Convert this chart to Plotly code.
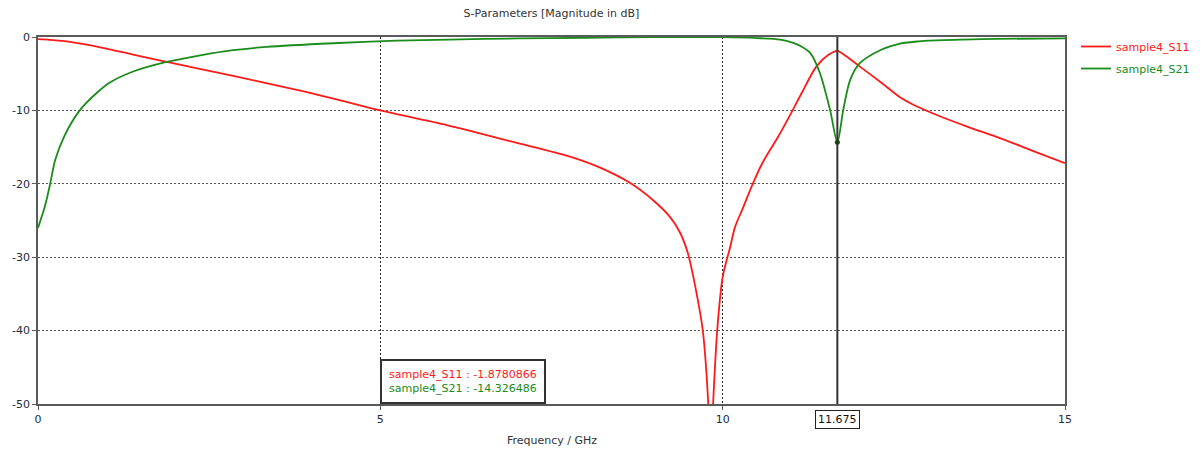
import plotly.graph_objects as go

# S11 magnitude (dB) vs frequency (GHz)
freq_s11 = [0.0, 0.42, 0.91, 1.39, 1.88, 2.85, 3.83, 4.4, 5.0, 5.97, 6.94, 7.77, 8.21,
            8.65, 8.98, 9.23, 9.38, 9.49, 9.60, 9.71, 9.79, 9.82, 9.86, 9.92, 10.0,
            10.11, 10.18, 10.30, 10.43, 10.59, 10.81, 11.01, 11.15, 11.37, 11.55, 11.675,
            11.8, 12.0, 12.3, 12.59, 12.8, 13.2, 13.6, 14.0, 14.5, 15.0]
s11_db = [-0.3, -0.6, -1.4, -2.4, -3.4, -5.3, -7.3, -8.6, -10.0, -12.0, -14.3, -16.3, -17.8,
          -19.9, -22.2, -24.5, -26.7, -29.4, -34.0, -40.0, -50.0, -58.0, -50.0, -40.0, -32.7,
          -28.6, -25.9, -23.2, -20.2, -17.0, -13.6, -10.2, -7.7, -4.0, -2.4, -1.8780866,
          -2.6, -4.0, -6.1, -8.2, -9.3, -10.9, -12.3, -13.6, -15.4, -17.2]

# S21 magnitude (dB) vs frequency (GHz)
freq_s21 = [0.0, 0.1, 0.18, 0.25, 0.39, 0.61, 0.86, 1.05, 1.39, 1.88, 2.37, 2.85,
            3.34, 4.31, 5.24, 6.0, 7.0, 8.0, 9.0, 10.0, 10.5, 10.84, 11.03, 11.15, 11.28,
            11.42, 11.57, 11.675, 11.76, 11.86, 12.0, 12.3, 12.59, 12.8, 13.0, 13.5, 14.0, 15.0]
s21_db = [-26.0, -23.1, -19.9, -16.8, -13.4, -10.0, -7.6, -6.2, -4.7, -3.4, -2.5, -1.8,
          -1.35, -0.85, -0.5, -0.35, -0.2, -0.1, -0.03, -0.03, -0.15, -0.35, -0.8, -1.3, -2.2,
          -4.9, -10.0, -14.326486, -10.0, -5.9, -3.6, -1.8, -0.9, -0.65, -0.5, -0.35, -0.25, -0.2]

marker_freq = 11.675
x_ticks = [0, 5, 10, 15]
y_ticks = [0, -10, -20, -30, -40, -50]

RED = "#ff1a1a"
GREEN = "#1a8c1a"
FONT = "DejaVu Sans"

s11_at_marker = s11_db[freq_s11.index(marker_freq)]
s21_at_marker = s21_db[freq_s21.index(marker_freq)]

fig = go.Figure()
fig.add_trace(go.Scatter(
    x=freq_s11, y=s11_db, mode="lines", name=f"<span style='color:{RED}'>sample4_S11</span>",
    line=dict(color=RED, width=1.8, shape="spline", smoothing=0.8), legendgroup="a",
))
fig.add_trace(go.Scatter(
    x=freq_s21, y=s21_db, mode="lines", name=f"<span style='color:{GREEN}'>sample4_S21</span>",
    line=dict(color=GREEN, width=1.8, shape="spline", smoothing=0.8), legendgroup="b",
))
fig.add_trace(go.Scatter(
    x=[marker_freq], y=[s21_at_marker], mode="markers", showlegend=False,
    marker=dict(color="#0b4d0b", size=5),
))

# vertical marker line
fig.add_shape(type="line", xref="x", yref="y", x0=marker_freq, x1=marker_freq,
              y0=-50, y1=0, line=dict(color="#333333", width=2), layer="above")

# marker readout box
fig.add_annotation(
    xref="x", yref="paper", x=5, y=0, xanchor="left", yanchor="bottom",
    text=(f"<span style='color:{RED}'>sample4_S11 : {s11_at_marker:.7f}</span><br>"
          f"<span style='color:{GREEN}'>sample4_S21 : {s21_at_marker:.6f}</span>"),
    align="left", showarrow=False, bgcolor="white", bordercolor="#333333",
    borderwidth=2, borderpad=7, font=dict(family=FONT, size=11),
)

# marker frequency label under the axis
fig.add_annotation(
    xref="x", yref="paper", x=marker_freq, y=-0.041, xanchor="center", yanchor="middle",
    text=f"{marker_freq:.3f}", showarrow=False, bgcolor="white", bordercolor="#222222",
    borderwidth=1, borderpad=2, font=dict(family=FONT, size=11, color="#111111"),
)

# x-axis title
fig.add_annotation(
    xref="paper", yref="paper", x=0.5, y=-0.1, xanchor="center", yanchor="middle",
    text="Frequency / GHz", showarrow=False, font=dict(family=FONT, size=11, color="#333333"),
)

fig.update_layout(
    width=1202, height=452,
    margin=dict(l=38, r=137, t=37, b=48, autoexpand=False),
    paper_bgcolor="white", plot_bgcolor="white",
    font=dict(family=FONT, size=11, color="#222a40"),
    title=dict(text="S-Parameters [Magnitude in dB]", x=0.5, xref="paper",
               y=1 - 13 / 452, yanchor="middle", xanchor="center",
               font=dict(family=FONT, size=11, color="#333333")),
    legend=dict(xref="container", yref="container", x=1076 / 1202, y=1 - 32 / 452,
                xanchor="left", yanchor="top",
                font=dict(family=FONT, size=11), tracegroupgap=3,
                bgcolor="rgba(0,0,0,0)"),
    showlegend=True,
)

fig.update_xaxes(
    range=[0, 15], tickvals=x_ticks, ticktext=[str(v) for v in x_ticks],
    showline=True, linecolor="#5a5a5a", linewidth=1.5, mirror=True,
    ticks="outside", ticklen=4, tickcolor="#5a5a5a",
    showgrid=True, gridcolor="#222222", gridwidth=1, griddash="2px,2px",
    zeroline=False,
)
fig.update_yaxes(
    range=[-50, 0], tickvals=y_ticks, ticktext=[str(v) for v in y_ticks],
    showline=True, linecolor="#5a5a5a", linewidth=1.5, mirror=True,
    ticks="outside", ticklen=4, tickcolor="#5a5a5a",
    showgrid=True, gridcolor="#555555", gridwidth=1, griddash="2px,2px",
    zeroline=False,
)

fig.write_html("out.html")
